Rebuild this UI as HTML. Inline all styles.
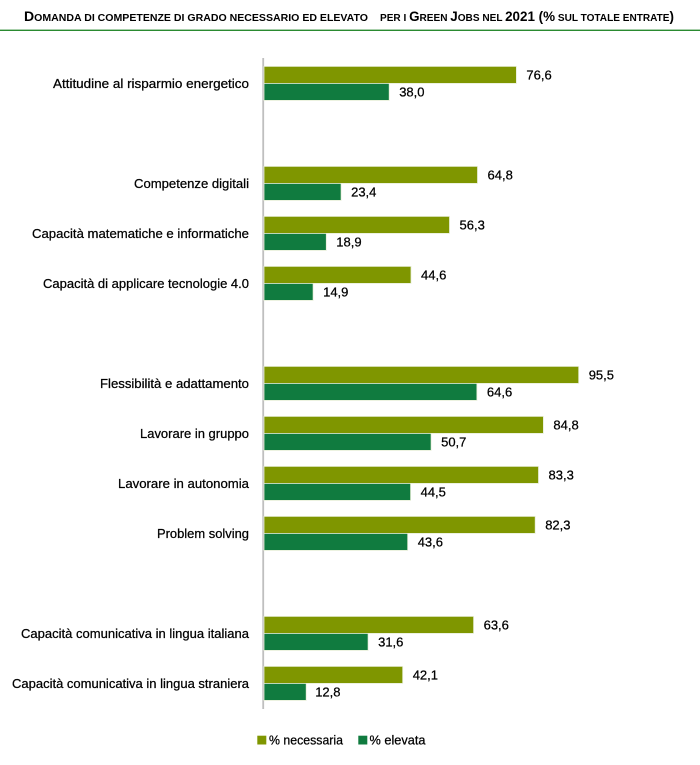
<!DOCTYPE html>
<html>
<head>
<meta charset="utf-8">
<style>
html,body{margin:0;padding:0;background:#fff;}
svg{display:block;}
text{font-family:"Liberation Sans",Arial,sans-serif;fill:#000;stroke:#000;stroke-width:0.25px;}
</style>
</head>
<body>
<svg width="700" height="765" viewBox="0 0 700 765" xmlns="http://www.w3.org/2000/svg">
  <!-- Title -->
  <text x="24" y="21" font-weight="bold" textLength="344" lengthAdjust="spacingAndGlyphs" style="font-size:10.5px;stroke-width:0"><tspan style="font-size:14px">D</tspan>OMANDA DI COMPETENZE DI GRADO NECESSARIO ED ELEVATO</text>
  <text x="380" y="21" font-weight="bold" textLength="294" lengthAdjust="spacingAndGlyphs" style="font-size:10.5px;stroke-width:0">PER I <tspan style="font-size:14px">G</tspan>REEN <tspan style="font-size:14px">J</tspan>OBS NEL <tspan style="font-size:14px">2021 (%</tspan> SUL TOTALE ENTRATE<tspan style="font-size:14px">)</tspan></text>
  <rect x="0" y="29.6" width="700" height="1.4" fill="#2a8a30"/>

  <!-- Axis -->
  <rect x="262.3" y="58" width="1.8" height="651" fill="#bfbfbf"/>

  <!-- Bars -->
  <g stroke="#e8eed8" stroke-width="0.8">
    <rect x="264" y="66.4" width="252.4" height="17" fill="#7f9600"/>
    <rect x="264" y="83.4" width="125.2" height="17" fill="#107b3f"/>
    <rect x="264" y="166.4" width="213.5" height="17" fill="#7f9600"/>
    <rect x="264" y="183.4" width="77.1" height="17" fill="#107b3f"/>
    <rect x="264" y="216.4" width="185.5" height="17" fill="#7f9600"/>
    <rect x="264" y="233.4" width="62.3" height="17" fill="#107b3f"/>
    <rect x="264" y="266.4" width="147" height="17" fill="#7f9600"/>
    <rect x="264" y="283.4" width="49.1" height="17" fill="#107b3f"/>
    <rect x="264" y="366.4" width="314.7" height="17" fill="#7f9600"/>
    <rect x="264" y="383.4" width="212.9" height="17" fill="#107b3f"/>
    <rect x="264" y="416.4" width="279.4" height="17" fill="#7f9600"/>
    <rect x="264" y="433.4" width="167.1" height="17" fill="#107b3f"/>
    <rect x="264" y="466.4" width="274.5" height="17" fill="#7f9600"/>
    <rect x="264" y="483.4" width="146.6" height="17" fill="#107b3f"/>
    <rect x="264" y="516.4" width="271.2" height="17" fill="#7f9600"/>
    <rect x="264" y="533.4" width="143.7" height="17" fill="#107b3f"/>
    <rect x="264" y="616.4" width="209.6" height="17" fill="#7f9600"/>
    <rect x="264" y="633.4" width="104.1" height="17" fill="#107b3f"/>
    <rect x="264" y="666.4" width="138.7" height="17" fill="#7f9600"/>
    <rect x="264" y="683.4" width="42.2" height="17" fill="#107b3f"/>
  </g>

  <!-- Category labels -->
  <g font-size="13" text-anchor="end">
    <text x="249" y="87.9" textLength="196" lengthAdjust="spacingAndGlyphs">Attitudine al risparmio energetico</text>
    <text x="249" y="187.9" textLength="115" lengthAdjust="spacingAndGlyphs">Competenze digitali</text>
    <text x="249" y="237.9" textLength="217" lengthAdjust="spacingAndGlyphs">Capacità matematiche e informatiche</text>
    <text x="249" y="287.9" textLength="206" lengthAdjust="spacingAndGlyphs">Capacità di applicare tecnologie 4.0</text>
    <text x="249" y="387.9" textLength="149" lengthAdjust="spacingAndGlyphs">Flessibilità e adattamento</text>
    <text x="249" y="437.9" textLength="109" lengthAdjust="spacingAndGlyphs">Lavorare in gruppo</text>
    <text x="249" y="487.9" textLength="131" lengthAdjust="spacingAndGlyphs">Lavorare in autonomia</text>
    <text x="249" y="537.9" textLength="92" lengthAdjust="spacingAndGlyphs">Problem solving</text>
    <text x="249" y="637.9" textLength="228" lengthAdjust="spacingAndGlyphs">Capacità comunicativa in lingua italiana</text>
    <text x="249" y="687.9" textLength="237" lengthAdjust="spacingAndGlyphs">Capacità comunicativa in lingua straniera</text>
  </g>

  <!-- Value labels -->
  <g font-size="13">
    <text x="526.4" y="79.4">76,6</text>
    <text x="399.2" y="96.4">38,0</text>
    <text x="487.5" y="179.4">64,8</text>
    <text x="351.1" y="196.4">23,4</text>
    <text x="459.5" y="229.4">56,3</text>
    <text x="336.3" y="246.4">18,9</text>
    <text x="421" y="279.4">44,6</text>
    <text x="323.1" y="296.4">14,9</text>
    <text x="588.7" y="379.4">95,5</text>
    <text x="486.9" y="396.4">64,6</text>
    <text x="553.4" y="429.4">84,8</text>
    <text x="441.1" y="446.4">50,7</text>
    <text x="548.5" y="479.4">83,3</text>
    <text x="420.6" y="496.4">44,5</text>
    <text x="545.2" y="529.4">82,3</text>
    <text x="417.7" y="546.4">43,6</text>
    <text x="483.6" y="629.4">63,6</text>
    <text x="378.1" y="646.4">31,6</text>
    <text x="412.7" y="679.4">42,1</text>
    <text x="315.2" y="696.4">12,8</text>
  </g>

  <!-- Legend -->
  <rect x="257.3" y="735.7" width="9" height="8.8" fill="#7f9600"/>
  <text x="269" y="744.5" font-size="13" textLength="74" lengthAdjust="spacingAndGlyphs">% necessaria</text>
  <rect x="358.3" y="735.7" width="9" height="8.8" fill="#107b3f"/>
  <text x="369.5" y="744.5" font-size="13" textLength="56" lengthAdjust="spacingAndGlyphs">% elevata</text>
</svg>
</body>
</html>
